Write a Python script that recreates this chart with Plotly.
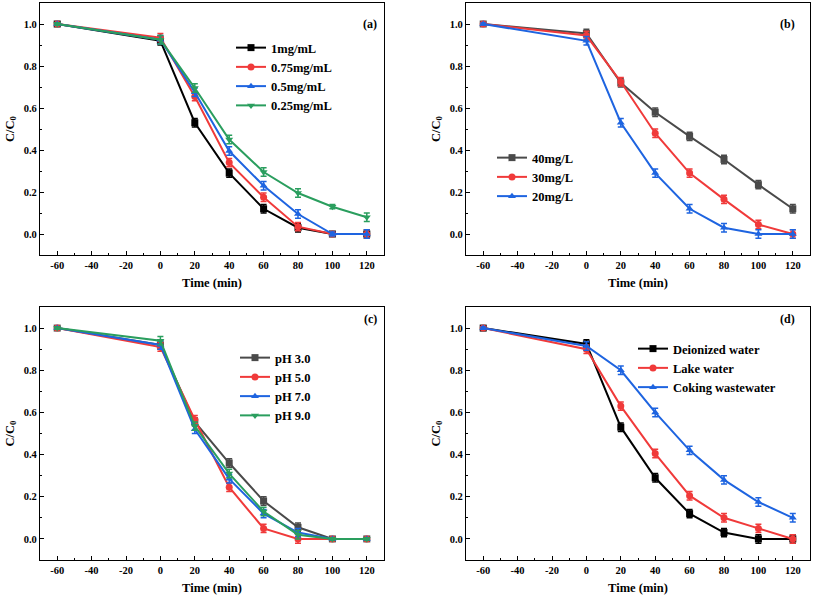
import plotly.graph_objects as go
from plotly.subplots import make_subplots

time = [-60, 0, 20, 40, 60, 80, 100, 120]

# Panel (a): catalyst dosage
a_names = ["1mg/mL", "0.75mg/mL", "0.5mg/mL", "0.25mg/mL"]
a_1 = [1.0, 0.92, 0.53, 0.29, 0.12, 0.03, 0.0, 0.0]
a_075 = [1.0, 0.935, 0.655, 0.34, 0.175, 0.035, 0.0, 0.0]
a_05 = [1.0, 0.925, 0.675, 0.395, 0.23, 0.095, 0.0, 0.0]
a_025 = [1.0, 0.925, 0.695, 0.45, 0.295, 0.195, 0.13, 0.08]
a_err = [0.005, 0.02, 0.02, 0.02, 0.02, 0.02, 0.01, 0.02]

# Panel (b): initial concentration
b_names = ["40mg/L", "30mg/L", "20mg/L"]
b_40 = [1.0, 0.955, 0.72, 0.58, 0.465, 0.355, 0.235, 0.12]
b_30 = [1.0, 0.945, 0.725, 0.48, 0.29, 0.165, 0.045, 0.0]
b_20 = [1.0, 0.92, 0.53, 0.29, 0.12, 0.03, 0.0, 0.0]
b_err = [0.005, 0.02, 0.02, 0.02, 0.02, 0.02, 0.02, 0.02]

# Panel (c): pH
c_names = ["pH 3.0", "pH 5.0", "pH 7.0", "pH 9.0"]
c_3 = [1.0, 0.92, 0.555, 0.36, 0.18, 0.055, 0.0, 0.0]
c_5 = [1.0, 0.91, 0.565, 0.245, 0.05, 0.0, 0.0, 0.0]
c_7 = [1.0, 0.92, 0.52, 0.285, 0.12, 0.03, 0.0, 0.0]
c_9 = [1.0, 0.94, 0.535, 0.31, 0.13, 0.02, 0.0, 0.0]
c_err = [0.005, 0.02, 0.02, 0.02, 0.02, 0.02, 0.005, 0.005]

# Panel (d): water matrix
d_names = ["Deionized water", "Lake water", "Coking wastewater"]
d_di = [1.0, 0.925, 0.53, 0.29, 0.12, 0.03, 0.0, 0.0]
d_lake = [1.0, 0.90, 0.63, 0.405, 0.205, 0.10, 0.05, 0.0]
d_cok = [1.0, 0.915, 0.80, 0.60, 0.42, 0.28, 0.175, 0.10]
d_err = [0.005, 0.02, 0.02, 0.02, 0.02, 0.02, 0.02, 0.02]

panel_labels = ["(a)", "(b)", "(c)", "(d)"]
x_ticks = [-60, -40, -20, 0, 20, 40, 60, 80, 100, 120]
y_ticks = [0.0, 0.2, 0.4, 0.6, 0.8, 1.0]

BLACK = "#000000"
GRAY = "#4a4a4a"
RED = "#f03a3a"
BLUE = "#1e64e0"
GREEN = "#2a9e5e"

FONT = "Liberation Serif"

fig = make_subplots(rows=2, cols=2)

panels = [
    (1, 1, "legend", list(zip(a_names, [a_1, a_075, a_05, a_025], [BLACK, RED, BLUE, GREEN],
                              ["square", "circle", "triangle-up", "triangle-down"])), a_err),
    (1, 2, "legend2", list(zip(b_names, [b_40, b_30, b_20], [GRAY, RED, BLUE],
                               ["square", "circle", "triangle-up"])), b_err),
    (2, 1, "legend3", list(zip(c_names, [c_3, c_5, c_7, c_9], [GRAY, RED, BLUE, GREEN],
                               ["square", "circle", "triangle-up", "triangle-down"])), c_err),
    (2, 2, "legend4", list(zip(d_names, [d_di, d_lake, d_cok], [BLACK, RED, BLUE],
                               ["square", "circle", "triangle-up"])), d_err),
]

for r, c, leg, series, err in panels:
    for name, vals, col, sym in series:
        fig.add_trace(go.Scatter(
            x=time, y=vals, name=name, mode="lines+markers",
            line=dict(color=col, width=2),
            marker=dict(symbol=sym, size=7, color=col),
            error_y=dict(type="data", array=err, visible=True, color=col, thickness=1.5, width=3),
            legend=leg, showlegend=True,
        ), row=r, col=c)

W, H = 813, 599
xdom_left = [40 / W, 384 / W]
xdom_right = [466 / W, 810 / W]
ydom_top = [(H - 255) / H, (H - 3) / H]
ydom_bot = [(H - 560) / H, (H - 307) / H]

axis_common = dict(showline=True, linecolor="black", linewidth=1.2, mirror=True,
                   ticks="inside", ticklen=4, tickwidth=1, tickcolor="black",
                   showgrid=False, zeroline=False,
                   tickfont=dict(family=FONT, size=10.5, color="black", weight="bold"))

doms = {1: (xdom_left, ydom_top), 2: (xdom_right, ydom_top),
        3: (xdom_left, ydom_bot), 4: (xdom_right, ydom_bot)}
for i in range(1, 5):
    xd, yd = doms[i]
    sfx = "" if i == 1 else str(i)
    fig.layout["xaxis" + sfx].update(
        domain=xd, range=[-70, 130], tickvals=x_ticks,
        ticktext=[str(v) for v in x_ticks],
        minor=dict(ticks="inside", ticklen=2, dtick=10, tick0=-70, tickcolor="black"),
        title=dict(text="Time (min)", font=dict(family=FONT, size=12.5, color="black", weight="bold"), standoff=8),
        **axis_common)
    fig.layout["yaxis" + sfx].update(
        domain=yd, range=[-0.1, 1.1], tickvals=y_ticks,
        ticktext=["%.1f" % v for v in y_ticks],
        minor=dict(ticks="inside", ticklen=2, dtick=0.1, tick0=0, tickcolor="black"),
        title=dict(text="C/C<sub>0</sub>", font=dict(family=FONT, size=12.5, color="black", weight="bold"), standoff=6),
        **axis_common)

legend_style = dict(font=dict(family=FONT, size=12.5, color="black", weight="bold"),
                    bgcolor="rgba(0,0,0,0)",
                    xanchor="left", yanchor="top", tracegroupgap=0, itemwidth=30)
fig.update_layout(
    legend=dict(x=231 / W, y=(H - 33) / H, **legend_style),
    legend2=dict(x=492 / W, y=(H - 143) / H, **legend_style),
    legend3=dict(x=235 / W, y=(H - 343) / H, **legend_style),
    legend4=dict(x=633 / W, y=(H - 334) / H, **legend_style),
)

label_pos = [(370, 15), (797, 15), (370, 319), (797, 319)]
for lab, (px, py) in zip(panel_labels, label_pos):
    fig.add_annotation(text=lab, x=px / W, y=(H - py) / H, xref="paper", yref="paper",
                       showarrow=False, font=dict(family=FONT, size=12, color="black", weight="bold"))

fig.update_layout(width=W, height=H, margin=dict(l=0, r=0, t=0, b=0),
                  paper_bgcolor="white", plot_bgcolor="white",
                  font=dict(family=FONT, color="black"))

fig.write_html("out.html", config={"displayModeBar": False},
               post_script="document.body.style.margin='0';")
